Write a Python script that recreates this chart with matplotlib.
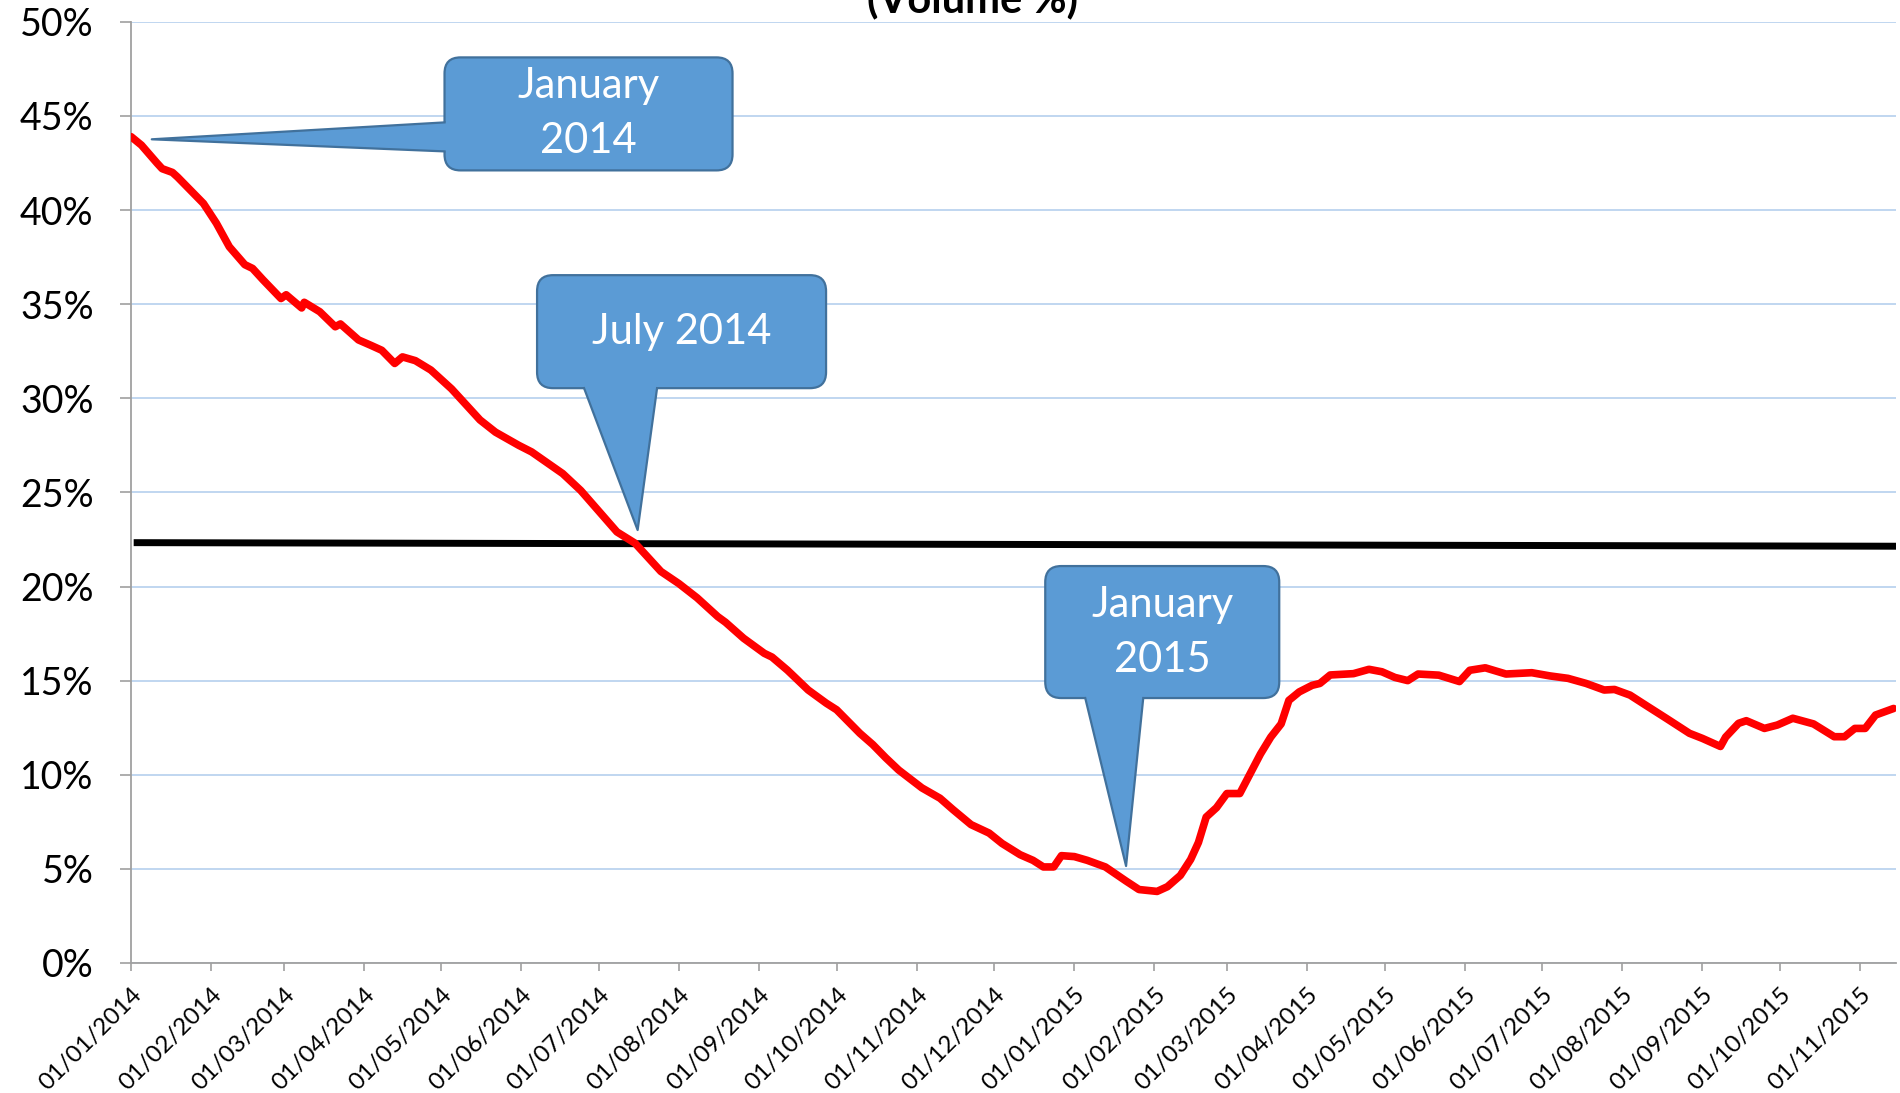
import matplotlib
matplotlib.use("Agg")
import matplotlib.pyplot as plt
import matplotlib.dates as mdates
from matplotlib.patches import FancyBboxPatch, Polygon
from matplotlib.lines import Line2D
from matplotlib.transforms import IdentityTransform
from matplotlib.ticker import MultipleLocator, FuncFormatter
import pandas as pd

plt.rcParams["font.family"] = ["Lato", "DejaVu Sans"]

# share of volume (%)
dates = [
    "2014-01-01", "2014-01-05", "2014-01-11", "2014-01-13", "2014-01-17", "2014-01-19",
    "2014-01-29", "2014-02-03", "2014-02-08", "2014-02-14", "2014-02-17", "2014-02-21",
    "2014-02-28", "2014-03-02", "2014-03-08", "2014-03-09", "2014-03-15", "2014-03-21",
    "2014-03-23", "2014-03-30", "2014-04-04", "2014-04-08", "2014-04-13", "2014-04-16",
    "2014-04-21", "2014-04-27", "2014-05-05", "2014-05-16", "2014-05-22", "2014-05-31",
    "2014-06-05", "2014-06-17", "2014-06-24", "2014-07-08", "2014-07-15", "2014-07-25",
    "2014-08-01", "2014-08-08", "2014-08-16", "2014-08-19", "2014-08-26", "2014-09-03",
    "2014-09-06", "2014-09-12", "2014-09-20", "2014-09-23", "2014-09-27", "2014-10-01",
    "2014-10-10", "2014-10-15", "2014-10-20", "2014-10-25", "2014-11-03", "2014-11-10",
    "2014-11-15", "2014-11-22", "2014-11-29", "2014-12-04", "2014-12-11", "2014-12-16",
    "2014-12-20", "2014-12-24", "2014-12-27", "2015-01-01", "2015-01-06", "2015-01-13",
    "2015-01-21", "2015-01-26", "2015-02-02", "2015-02-06", "2015-02-11", "2015-02-15",
    "2015-02-18", "2015-02-21", "2015-02-25", "2015-03-01", "2015-03-06", "2015-03-10",
    "2015-03-14", "2015-03-18", "2015-03-22", "2015-03-25", "2015-03-29", "2015-04-03",
    "2015-04-06", "2015-04-10", "2015-04-19", "2015-04-25", "2015-04-30", "2015-05-05",
    "2015-05-10", "2015-05-14", "2015-05-22", "2015-05-30", "2015-06-03", "2015-06-09",
    "2015-06-17", "2015-06-27", "2015-07-04", "2015-07-11", "2015-07-18", "2015-07-25",
    "2015-07-29", "2015-08-04", "2015-08-10", "2015-08-18", "2015-08-27", "2015-09-01",
    "2015-09-08", "2015-09-10", "2015-09-15", "2015-09-18", "2015-09-25", "2015-09-30",
    "2015-10-06", "2015-10-14", "2015-10-22", "2015-10-26", "2015-10-30", "2015-11-03",
    "2015-11-07", "2015-11-14",
]
share = [
    43.9, 43.45, 42.5, 42.2, 42.0, 41.75,
    40.35, 39.3, 38.05, 37.1, 36.9, 36.3,
    35.3, 35.5, 34.8, 35.1, 34.6, 33.8,
    33.95, 33.1, 32.8, 32.55, 31.85, 32.2,
    32.0, 31.5, 30.5, 28.85, 28.2, 27.5,
    27.15, 26.0, 25.1, 22.9, 22.3, 20.8,
    20.15, 19.4, 18.4, 18.1, 17.25, 16.45,
    16.25, 15.55, 14.5, 14.2, 13.8, 13.45,
    12.2, 11.6, 10.9, 10.25, 9.3, 8.75,
    8.15, 7.35, 6.9, 6.35, 5.75, 5.45,
    5.1, 5.1, 5.7, 5.65, 5.45, 5.1,
    4.35, 3.9, 3.8, 4.05, 4.65, 5.5,
    6.4, 7.75, 8.25, 9.0, 9.0, 10.05,
    11.1, 12.0, 12.7, 13.95, 14.4, 14.75,
    14.85, 15.3, 15.37, 15.6, 15.47, 15.17,
    15.0, 15.35, 15.29, 14.95, 15.55, 15.68,
    15.35, 15.42, 15.25, 15.12, 14.85, 14.5,
    14.53, 14.23, 13.7, 13.0, 12.2, 11.93,
    11.5, 12.0, 12.73, 12.87, 12.46, 12.64,
    13.0, 12.7, 12.02, 12.02, 12.46, 12.46,
    13.17, 13.52,
]

# black reference line
avg_dates = ["2014-01-02", "2015-11-15"]
avg_share = [22.33, 22.14]

tick_dates = pd.date_range("2014-01-01", "2015-11-01", freq="MS")

# label, tip (date, %), box centre (date, %), box w/h px, pointer base offsets px
callouts = [
    ("January\n2014", ("2014-01-09", 43.76), ("2014-06-27", 45.11), (288, 113),
     ((-144, -8.5), (-144, -37.5))),
    ("July 2014", ("2014-07-16", 23.0), ("2014-08-02", 33.54), (289, 113),
     ((-97.5, -56.5), (-24.5, -56.5))),
    ("January\n2015", ("2015-01-21", 5.15), ("2015-02-04", 17.58), (234, 132),
     ((-77, -66), (-19, -66))),
]

fig = plt.figure(figsize=(19, 10.93), dpi=100)
ax = fig.add_axes([0.069, 0.119, 0.929, 0.861])

ax.plot(pd.to_datetime(avg_dates), avg_share, color="black", lw=5,
        solid_capstyle="butt", zorder=2)
ax.plot(pd.to_datetime(dates), share, color="#FF0000", lw=5.5,
        solid_joinstyle="round", solid_capstyle="round", zorder=3)

ax.set_xlim(pd.Timestamp("2014-01-01"), pd.Timestamp("2015-11-15"))
ax.set_ylim(0, 50)
ax.yaxis.set_major_locator(MultipleLocator(5))
ax.yaxis.set_major_formatter(FuncFormatter(lambda v, _: f"{v:.0f}%"))
ax.set_xticks(tick_dates)
ax.set_xticklabels([d.strftime("%d/%m/%Y") for d in tick_dates], rotation=45,
                   ha="right", va="top", rotation_mode="anchor", fontsize=17.5)

ax.grid(axis="y", color="#AFCBEC", lw=1.1)
ax.set_axisbelow(True)
for s in ["top", "right"]:
    ax.spines[s].set_visible(False)
for s in ["left", "bottom"]:
    ax.spines[s].set_color("#A0A0A0")
    ax.spines[s].set_linewidth(1.3)
ax.tick_params(axis="x", length=6, width=1.2, color="#A0A0A0", pad=9)
ax.tick_params(axis="y", length=8, width=1.2, color="#A0A0A0", pad=19, labelsize=27)

fig.text(0.512, 1 - 12 / 1093, "(Volume %)", ha="center", va="baseline",
         fontsize=30, fontweight="bold")

face, edge = "#5B9BD5", "#41719C"
ident = IdentityTransform()
for label, tip, centre, (w, h), base in callouts:
    tx, ty = ax.transData.transform((mdates.date2num(pd.Timestamp(tip[0])), tip[1]))
    cx, cy = ax.transData.transform((mdates.date2num(pd.Timestamp(centre[0])), centre[1]))
    box = FancyBboxPatch((cx - w / 2, cy - h / 2), w, h,
                         boxstyle="round,pad=0,rounding_size=16",
                         fc=face, ec=edge, lw=1.6, transform=ident, zorder=5)
    fig.add_artist(box)
    b1 = (cx + base[0][0], cy + base[0][1])
    b2 = (cx + base[1][0], cy + base[1][1])
    if abs(b1[1] - b2[1]) < 1:
        inward = (0, 5 if cy > b1[1] else -5)
    else:
        inward = (5 if cx > b1[0] else -5, 0)
    poly = Polygon([(b1[0] + inward[0], b1[1] + inward[1]), b1, (tx, ty), b2,
                    (b2[0] + inward[0], b2[1] + inward[1])],
                   closed=True, fc=face, ec="none", transform=ident, zorder=6)
    fig.add_artist(poly)
    fig.add_artist(Line2D([b1[0], tx, b2[0]], [b1[1], ty, b2[1]], color=edge,
                          lw=1.6, transform=ident, zorder=7))
    fig.text(cx, cy, label, transform=ident, ha="center", va="center",
             color="white", fontsize=30, linespacing=1.55, zorder=8)

fig.savefig("out.png", dpi=100)
